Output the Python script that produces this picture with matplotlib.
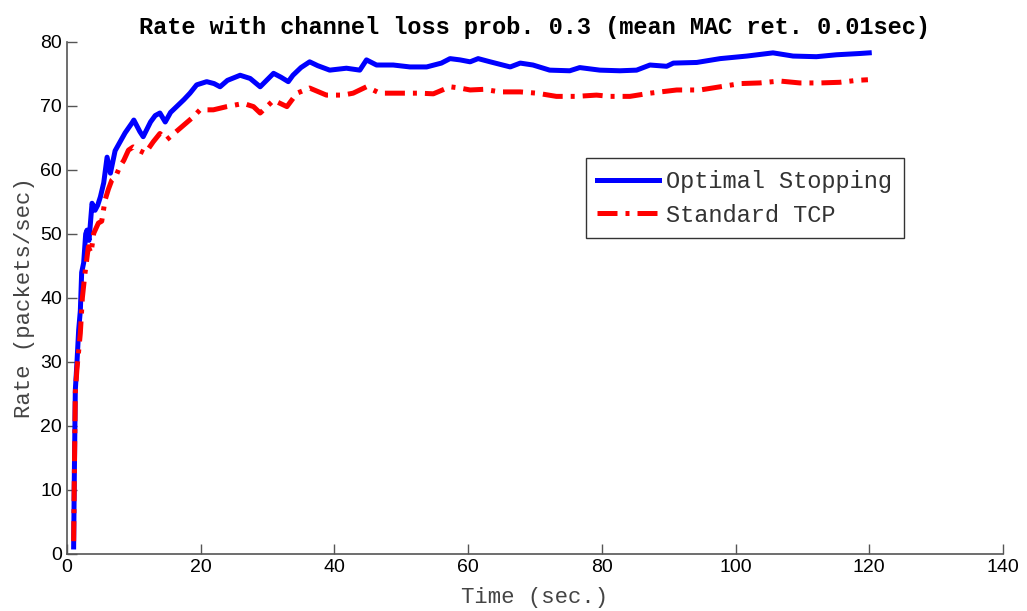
import matplotlib as mpl
mpl.use('Agg')
import matplotlib.pyplot as plt

# Data
t_opt = [1.0, 1.1, 1.25, 1.5, 1.75, 2.0, 2.2, 2.5, 2.8, 3.0, 3.3, 3.75, 4.2, 4.6, 5.0, 5.5, 6.0, 6.5,
         7.2, 8.0, 8.7, 9.7, 10.0, 10.9, 11.4, 12.5, 13.2, 13.9, 14.7, 15.5, 16.4, 17.5, 18.4, 19.4,
         20.9, 22.0, 22.9, 24.0, 25.9, 27.4, 28.9, 30.9, 32.0, 33.1, 33.8, 35.0, 36.3, 37.5, 39.3,
         41.8, 43.8, 44.8, 46.3, 48.8, 51.3, 53.8, 56.0, 57.3, 58.8, 60.3, 61.5, 63.3, 66.3, 67.8,
         69.7, 72.2, 75.2, 76.7, 79.7, 82.7, 85.2, 87.2, 89.7, 90.7, 94.2, 97.7, 101.7, 105.6,
         108.6, 112.1, 115.1, 118.6, 120.0]
rate_opt = [1.1, 12, 25.6, 30, 35, 38, 44, 45.5, 50, 50.6, 49, 54.8, 53.7, 54.5, 55.8, 58, 62, 59.5,
            63, 64.5, 65.8, 67.3, 67.8, 66, 65.2, 67.5, 68.5, 68.9, 67.5, 69, 69.9, 71, 72, 73.3,
            73.8, 73.5, 73, 74, 74.8, 74.3, 73, 75.1, 74.5, 73.8, 74.8, 76, 76.9, 76.3, 75.6,
            75.9, 75.6, 77.2, 76.4, 76.4, 76.1, 76.1, 76.7, 77.4, 77.2, 76.9, 77.4, 76.9, 76.1, 76.7,
            76.4, 75.6, 75.5, 76, 75.6, 75.5, 75.6, 76.4, 76.2, 76.7, 76.8, 77.4, 77.8, 78.3,
            77.8, 77.7, 78, 78.2, 78.3]

t_tcp = [1.0, 1.1, 1.25, 1.5, 2.0, 2.3, 2.7, 3.2, 3.6, 4.0, 4.7, 5.2, 5.7, 6.2, 6.7, 7.3, 7.9, 8.5,
         9.2, 9.9, 10.7, 11.7, 12.9, 13.9, 14.9, 16.9, 18.9, 19.9, 21.9, 23.9, 26.4, 27.9, 28.9,
         29.4, 30.9, 32.9, 34.4, 36.3, 38.8, 41.3, 42.8, 44.8, 46.8, 50.3, 52.8, 54.8, 57.3, 58.8,
         60.3, 62.3, 64.8, 67.8, 70.3, 73.2, 76.2, 79.2, 81.2, 84.2, 87.2, 91.2, 94.7, 97.7, 100.7,
         103.6, 106.6, 109.6, 112.6, 115.6, 118.1, 119.8]
rate_tcp = [2, 12, 25.2, 29, 34.5, 40, 43.9, 48, 47, 50.1, 51.7, 52, 55.3, 57, 58.4, 59, 60.5, 61.5,
            63.1, 63.6, 63.1, 62.6, 64.4, 65.7, 64.7, 66.5, 68.3, 69.4, 69.4, 69.9, 70.4, 69.9, 68.9,
            69.4, 70.9, 69.9, 72, 72.8, 71.7, 71.7, 72, 73, 72, 72, 72, 71.9, 73, 72.8,
            72.5, 72.6, 72.2, 72.2, 72, 71.5, 71.5, 71.7, 71.5, 71.5, 72, 72.5, 72.5, 73, 73.5,
            73.6, 73.9, 73.6, 73.6, 73.7, 74, 74.1]

mono = 'Liberation Mono'
sans = 'Liberation Sans'

fig = plt.figure(figsize=(10.27, 6.11), dpi=100)
ax = fig.add_axes([0.0652, 0.0933, 0.9114, 0.838])

ax.plot(t_opt, rate_opt, color='#0000ff', lw=3.6, label='Optimal Stopping')
ax.plot(t_tcp, rate_tcp, color='#ff0000', lw=3.6, linestyle=(0, (4, 1.6, 0.8, 1.6)), label='Standard TCP')

ax.set_xlim(0, 140)
ax.set_ylim(0, 80)
ax.set_xticks(range(0, 141, 20))
ax.set_yticks(range(0, 81, 10))
for s in ['top', 'right']:
    ax.spines[s].set_visible(False)
for s in ['left', 'bottom']:
    ax.spines[s].set_color('#555555')
    ax.spines[s].set_linewidth(1.2)
ax.tick_params(direction='in', length=7, width=1, colors='#555555', labelcolor='black', labelsize=14)
for lab in ax.get_xticklabels() + ax.get_yticklabels():
    lab.set_family(sans)

ax.set_title('Rate with channel loss prob. 0.3 (mean MAC ret. 0.01sec)', family=mono,
             fontweight='bold', fontsize=17, pad=6)
ax.set_xlabel('Time (sec.)', family=mono, fontsize=16, color='#444444', labelpad=8)
ax.set_ylabel('Rate (packets/sec)', family=mono, fontsize=16, color='#444444', labelpad=4)

leg = ax.legend(loc='upper left', bbox_to_anchor=(0.554, 0.773), prop={'family': mono, 'size': 17},
                frameon=True, fancybox=False, edgecolor='black', handlelength=2.6,
                borderpad=0.5, labelspacing=0.45, handletextpad=0.3, borderaxespad=0)
leg.get_frame().set_linewidth(1.0)
for txt in leg.get_texts():
    txt.set_color('#333333')

fig.savefig('out.png', dpi=100)
